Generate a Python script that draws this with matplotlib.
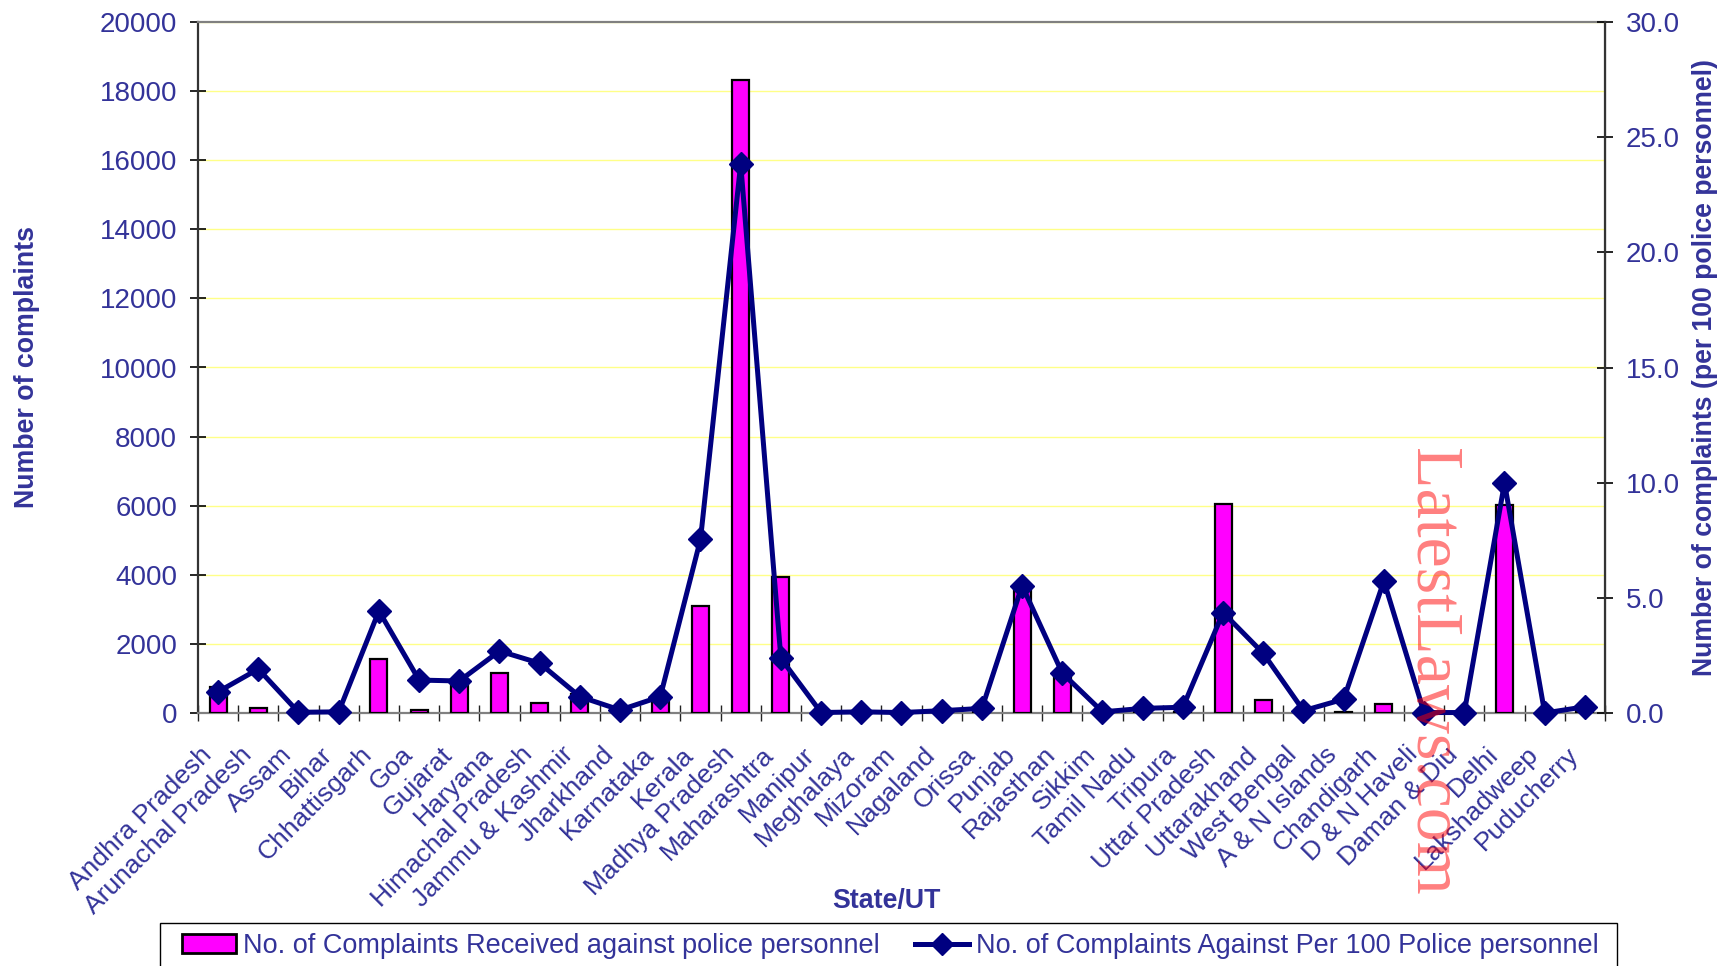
import matplotlib
matplotlib.use('Agg')
import matplotlib.pyplot as plt
import matplotlib.transforms as mtransforms
from matplotlib.lines import Line2D
from matplotlib.patches import Patch, Rectangle
from matplotlib.ticker import FormatStrFormatter
import numpy as np

states = ["Andhra Pradesh", "Arunachal Pradesh", "Assam", "Bihar", "Chhattisgarh", "Goa",
          "Gujarat", "Haryana", "Himachal Pradesh", "Jammu & Kashmir", "Jharkhand",
          "Karnataka", "Kerala", "Madhya Pradesh", "Maharashtra", "Manipur", "Meghalaya",
          "Mizoram", "Nagaland", "Orissa", "Punjab", "Rajasthan", "Sikkim", "Tamil Nadu",
          "Tripura", "Uttar Pradesh", "Uttarakhand", "West Bengal", "A & N Islands",
          "Chandigarh", "D & N Haveli", "Daman & Diu", "Delhi", "Lakshadweep", "Puducherry"]

complaints = [750, 155, 20, 10, 1550, 80, 900, 1170, 300, 550, 20, 500, 3100, 18320,
              3950, 10, 15, 10, 10, 30, 3650, 1200, 10, 30, 40, 6040, 380, 20, 30,
              260, 5, 5, 6030, 0, 50]

per100 = [0.92, 1.91, 0.03, 0.05, 4.43, 1.43, 1.39, 2.69, 2.16, 0.71, 0.13, 0.71, 7.54,
          23.84, 2.37, 0.02, 0.05, 0.02, 0.1, 0.2, 5.53, 1.73, 0.05, 0.2, 0.25, 4.36,
          2.59, 0.1, 0.6, 5.73, 0.02, 0.02, 9.99, 0.0, 0.27]

left_ticks = [0, 2000, 4000, 6000, 8000, 10000, 12000, 14000, 16000, 18000, 20000]
right_ticks = [0, 5, 10, 15, 20, 25, 30]

legend_labels = ["No. of Complaints Received against police personnel",
                 "No. of Complaints Against Per 100 Police personnel"]

TXT = '#333399'
NAVY = '#000080'
MAG = '#FF00FF'

plt.rcParams['font.family'] = ['Liberation Sans', 'DejaVu Sans']

W, H = 1729, 966
fig = plt.figure(figsize=(W / 100, H / 100), dpi=100, facecolor='white')
L, R, B, T = 198 / W, 1605 / W, 1 - 713 / H, 1 - 22 / H
ax = fig.add_axes([L, B, R - L, T - B])

x = np.arange(len(states))
ax.bar(x, complaints, width=0.42, color=MAG, edgecolor='black', linewidth=1.6, zorder=3)
ax.set_xlim(-0.5, len(states) - 0.5)
ax.set_ylim(0, 20000)
ax.set_yticks(left_ticks)
ax.yaxis.grid(True, color='#FFFF88', linewidth=1.0)
ax.set_axisbelow(True)
ax.tick_params(axis='y', direction='inout', length=12, width=1.2, pad=9,
               labelsize=20, labelcolor=TXT, color='black')

ax.set_xticks(x)
ax.set_xticklabels(states, rotation=45, ha='right', va='top', rotation_mode='anchor',
                   fontsize=19, color=TXT)
ax.set_xticks(np.arange(-0.5, len(states)), minor=True)
ax.tick_params(axis='x', which='major', length=0, pad=21)
ax.tick_params(axis='x', which='minor', direction='inout', length=12, width=1.0, color='#222222')
offset = mtransforms.ScaledTranslation(-19 / 100, 0, fig.dpi_scale_trans)
for lbl in ax.get_xticklabels():
    lbl.set_transform(lbl.get_transform() + offset)

for s in ['top', 'bottom']:
    ax.spines[s].set_color('#808080')
    ax.spines[s].set_linewidth(1.6)
ax.spines['left'].set_color('#333333')
ax.spines['left'].set_linewidth(1.6)

ax2 = ax.twinx()
ax2.plot(x, per100, color=NAVY, linewidth=3.6, marker='D', markersize=12,
         markeredgecolor=NAVY, clip_on=False, zorder=5)
ax2.set_ylim(0, 30)
ax2.set_yticks(right_ticks)
ax2.yaxis.set_major_formatter(FormatStrFormatter('%.1f'))
ax2.tick_params(axis='y', direction='inout', length=12, width=1.2, pad=9,
                labelsize=20, labelcolor=TXT, color='black')
ax2.spines['right'].set_color('#333333')
ax2.spines['right'].set_linewidth(1.6)
for s in ['top', 'bottom', 'left']:
    ax2.spines[s].set_visible(False)

fig.text(27 / W, 1 - 367 / H, 'Number of complaints', rotation=90, ha='center', va='center',
         fontsize=19.3, fontweight='bold', color=TXT)
fig.text(1705 / W, 1 - 367 / H, 'Number of complaints (per 100 police personnel)', rotation=90,
         ha='center', va='center', fontsize=19.2, fontweight='bold', color=TXT)
fig.text(886 / W, 1 - 901 / H, 'State/UT', ha='center', va='center',
         fontsize=19.3, fontweight='bold', color=TXT)

# legend frame
fig.patches.append(Rectangle((160 / W, -0.05), (1617 - 160) / W, 0.05 + 1 - 923 / H,
                             transform=fig.transFigure, facecolor='white',
                             edgecolor='black', linewidth=1.0, zorder=1))
handles = [Patch(facecolor=MAG, edgecolor='black', linewidth=2),
           Line2D([], [], color=NAVY, linewidth=3.6, marker='D', markersize=11)]
leg = fig.legend(handles, legend_labels, loc='center left',
                 bbox_to_anchor=(182 / W, 1 - 946 / H, (1599 - 182) / W, 0),
                 mode='expand', ncol=2, frameon=False,
                 fontsize=19.5, handlelength=2.0, handletextpad=0.25, borderaxespad=0,
                 borderpad=0, labelcolor=TXT)

fig.text(1431 / W, 1 - 672 / H, 'LatestLaws.com', rotation=-90, ha='center', va='center',
         fontsize=49, family='Liberation Serif', color='red', alpha=0.5, zorder=20)

fig.savefig('out.png', dpi=100, facecolor='white')
